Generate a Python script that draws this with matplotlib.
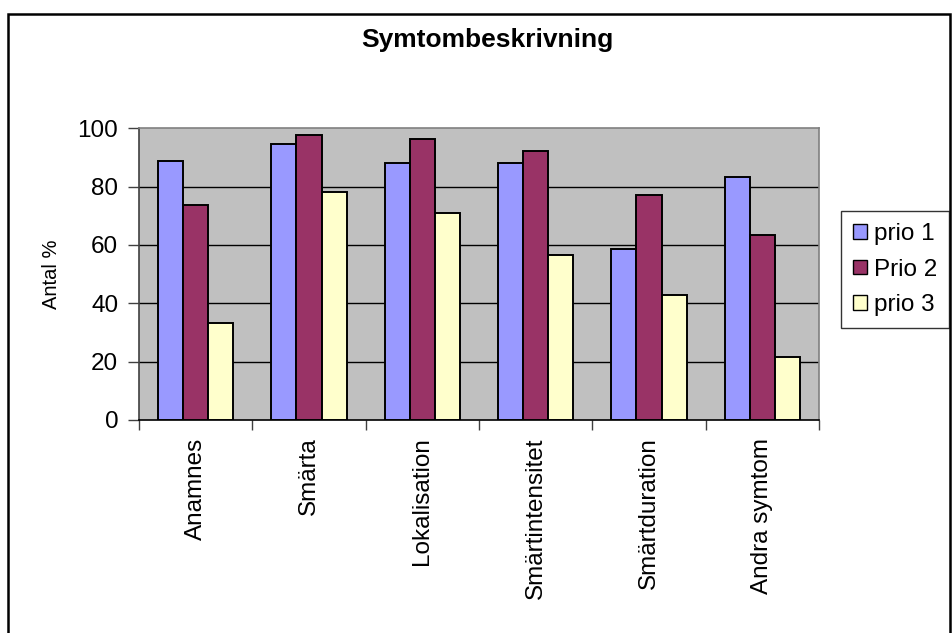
import matplotlib
matplotlib.use("Agg")
import matplotlib.pyplot as plt
from matplotlib.patches import Rectangle
import numpy as np

plt.rcParams['font.family'] = ['Liberation Sans', 'DejaVu Sans']

categories = ["Anamnes", "Smärta", "Lokalisation", "Smärtintensitet",
              "Smärtduration", "Andra symtom"]
series_names = ["prio 1", "Prio 2", "prio 3"]
prio1 = [88.9, 94.5, 88.2, 88.2, 58.7, 83.4]
prio2 = [73.7, 97.8, 96.3, 92.3, 77.1, 63.5]
prio3 = [33.4, 78.1, 71.0, 56.7, 43.0, 21.7]
yticks = [0, 20, 40, 60, 80, 100]

colors = ["#9999FF", "#993366", "#FFFFCC"]

W, H = 952, 633
fig = plt.figure(figsize=(W / 100, H / 100), dpi=100)

# outer chart frame
fig.patches.append(Rectangle((8 / W, -0.05), (950 - 8) / W, (H - 14) / H + 0.05,
                             transform=fig.transFigure, fill=False,
                             edgecolor="black", linewidth=1.8, zorder=0))

ax = fig.add_axes([139 / W, (H - 420) / H, (819 - 139) / W, (420 - 128.3) / H])
ax.set_facecolor("#C0C0C0")

n = len(categories)
x = np.arange(n)
bw = 1 / 4.5
for i, (vals, c, name) in enumerate(zip([prio1, prio2, prio3], colors, series_names)):
    ax.bar(x + (i - 1) * bw, vals, width=bw, color=c, edgecolor="black",
           linewidth=1.4, label=name, zorder=3)

ax.set_xlim(-0.5, n - 0.5)
ax.set_ylim(0, 100)
ax.set_yticks(yticks)
ax.set_yticklabels([str(v) for v in yticks], fontsize=17.5)
for v in yticks[1:-1]:
    ax.axhline(v, color="black", linewidth=1.0, zorder=1)

ax.set_xticks(np.arange(-0.5, n, 1.0))
ax.set_xticklabels([])
ax.tick_params(axis="x", direction="out", length=7, width=1, color="#404040")
ax.tick_params(axis="y", direction="out", length=8, width=1, color="#404040", pad=7)
for i, cat in enumerate(categories):
    ax.text(i, -6, cat, rotation=90, ha="center", va="top", fontsize=17.5,
            transform=ax.transData)

for side in ["top", "right"]:
    ax.spines[side].set_color("#808080")
    ax.spines[side].set_linewidth(1.2)
ax.spines["left"].set_color("#404040")
ax.spines["bottom"].set_color("black")
ax.spines["left"].set_linewidth(1.2)
ax.spines["bottom"].set_linewidth(1.2)

ax.set_ylabel("Antal %", fontsize=14.5, labelpad=12)

fig.text(487 / W, 1 - 40 / H, "Symtombeskrivning", ha="center", va="center",
         fontsize=19, fontweight="bold")

leg = fig.legend(loc="upper left", bbox_to_anchor=(841 / W, 1 - 211 / H),
                 borderaxespad=0, fontsize=17.5, frameon=True, fancybox=False,
                 handlelength=0.55, handleheight=0.55, handletextpad=0.3,
                 labelspacing=0.55, borderpad=0.5)
leg.get_frame().set_edgecolor("black")
leg.get_frame().set_linewidth(1.0)
for h in leg.legend_handles:
    h.set_linewidth(1.0)

fig.savefig("out.png", dpi=100)
